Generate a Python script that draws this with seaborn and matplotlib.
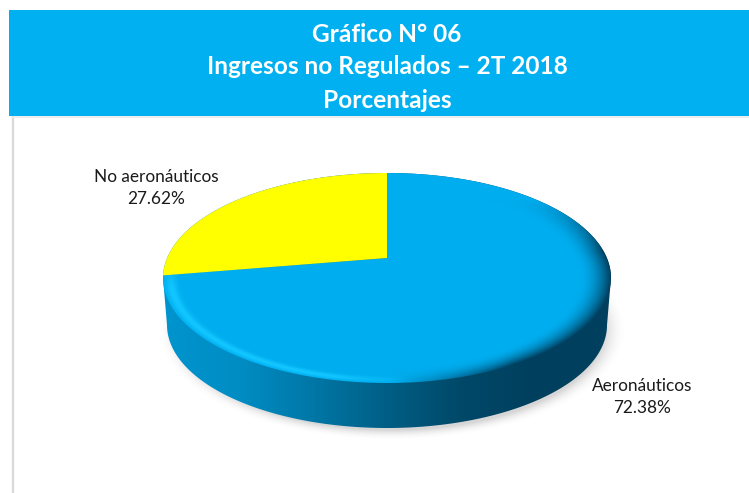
# Grafico N 06 - pie 3D de ingresos no regulados

import numpy as np
import seaborn as sns
import matplotlib.pyplot as plt
from matplotlib.colors import to_rgb
from matplotlib.patches import Polygon

titulo = ["Gráfico N° 06", "Ingresos no Regulados – 2T 2018", "Porcentajes"]
categorias = ["No aeronáuticos", "Aeronáuticos"]
valores = [27.62, 72.38]
colores = ["#FFFF00", "#00ADEF"]

sns.set_theme(style="white")
plt.rcParams["font.family"] = ["Lato", "DejaVu Sans"]

W, H = 749, 493
fig = plt.figure(figsize=(W / 100, H / 100), dpi=100)
ax = fig.add_axes([0, 0, 1, 1])
ax.set_xlim(0, W)
ax.set_ylim(H, 0)
ax.axis("off")

# geometria del disco
cx, cy, rx, ry = 387, 278, 224, 105
cy2, rx2, ry2 = 325, 220, 103
apex = (387, 258)

xx, yy = np.meshgrid(np.arange(W) + 0.5, np.arange(H) + 0.5)
extent = (0, W, H, 0)


def elipse(c_y, r_x, r_y, a0=0, a1=2 * np.pi, n=300):
    t = np.linspace(a0, a1, n)
    return np.column_stack([cx + r_x * np.sin(t), c_y - r_y * np.cos(t)])


def corte(frac):
    # rayo desde el vertice hasta el borde, en perspectiva
    t = 2 * np.pi * frac
    dx, dy = rx * np.sin(t), ry * -np.cos(t)
    ox, oy = apex[0] - cx, apex[1] - cy
    a = (dx / rx) ** 2 + (dy / ry) ** 2
    b = 2 * (ox * dx / rx**2 + oy * dy / ry**2)
    c = (ox / rx) ** 2 + (oy / ry) ** 2 - 1
    s = (-b + np.sqrt(b * b - 4 * a * c)) / (2 * a)
    px, py = ox + s * dx, oy + s * dy
    return np.arctan2(px / rx, -py / ry) % (2 * np.pi)


def capa(rgb, alpha=None, clip=None, z=1):
    img = rgb if alpha is None else np.dstack([rgb, alpha])
    im = ax.imshow(img, extent=extent, zorder=z, interpolation="bilinear", aspect="auto")
    if clip is not None:
        im.set_clip_path(clip)
    return im


# banda del titulo y lineas grises
ax.fill_between([9, W], 10, 115.5, color="#00B0F0", lw=0, zorder=5)
ax.plot([12.5, 12.5], [116, H], color="#D9D9D9", lw=1.6, zorder=1)
ax.plot([12, W], [116.5, 116.5], color="#EBEBEB", lw=1.2, zorder=1)
for linea, y in zip(titulo, [35, 67, 100]):
    ax.text(387, y, linea, color="white", fontsize=17.6, fontweight="bold",
            ha="center", va="center", zorder=6)

# sombra
d = (np.sqrt(((xx - cx - 5) / (rx2 + 1)) ** 2 + ((yy - cy2 - 5) / (ry2 + 1)) ** 2) - 1) * 130
sombra = np.clip(1 - (d + 5) / 13, 0, 1) ** 2 * 0.42
capa(np.full((H, W, 3), 0.62), sombra, z=2)

# costado con degradado horizontal
paleta = np.array(sns.blend_palette(["#0094CE", "#008DC4", "#0077A6", "#005E85", "#004868",
                                     "#003F5E", "#003F5E"], 256))
ind = np.clip((xx - (cx - rx)) / (2 * rx) * 255, 0, 255).astype(int)
lado = np.vstack([elipse(cy2, rx2, ry2, np.pi / 2, 3 * np.pi / 2),
                  elipse(cy, rx, ry, 3 * np.pi / 2, 5 * np.pi / 2)])
parche = Polygon(lado, closed=True, transform=ax.transData, fc="none", ec="none")
ax.add_patch(parche)
capa(paleta[ind], clip=parche, z=3)

# cara superior: los sectores salen de los valores
frac = np.cumsum(valores) / np.sum(valores)
a_corte = corte(1 - frac[0])
sect_am = np.vstack([[apex], elipse(cy, rx, ry, a_corte, 2 * np.pi)])
sect_az = np.vstack([[apex], elipse(cy, rx, ry, 0, a_corte)])

r = np.sqrt(((xx - cx) / rx) ** 2 + ((yy - cy) / ry) ** 2)
u = np.clip((r - 0.86) / 0.14, 0, 1)
nx = (xx - cx) / rx
ny = (yy - cy) / ry

base = np.array(to_rgb(colores[1]))
claro = np.array(to_rgb("#12C6FF"))
oscuro = np.array(to_rgb("#013F5E"))
k_osc = np.clip((nx - 0.02) / 0.55, 0, 1) * np.clip((ny + 0.75) / 0.5, 0, 1)
k_cla = np.clip((0.10 - nx) / 0.35, 0, 1) * np.clip((ny + 0.2) / 0.3, 0, 1)
brillo = np.exp(-((r - 0.965) / 0.025) ** 2) * k_cla
sombreado = u**1.8 * k_osc
top = base + (claro - base) * brillo[..., None]
top = top + (oscuro - top) * sombreado[..., None]

p_az = Polygon(sect_az, closed=True, transform=ax.transData, fc="none", ec="none")
ax.add_patch(p_az)
capa(np.clip(top, 0, 1), clip=p_az, z=4)
ax.fill(sect_am[:, 0], sect_am[:, 1], color=colores[0], lw=0, zorder=4)

# etiquetas
ax.text(156.5, 188, f"{categorias[0]}\n{valores[0]:.2f}%", fontsize=12.4, color="#1A1A1A",
        ha="center", va="center", linespacing=1.4, zorder=6)
ax.text(642, 397, f"{categorias[1]}\n{valores[1]:.2f}%", fontsize=12.4, color="#1A1A1A",
        ha="center", va="center", linespacing=1.4, zorder=6)

ax.set_xlim(0, W)
ax.set_ylim(H, 0)
fig.savefig("out.png", dpi=100, facecolor="white")
plt.close()
